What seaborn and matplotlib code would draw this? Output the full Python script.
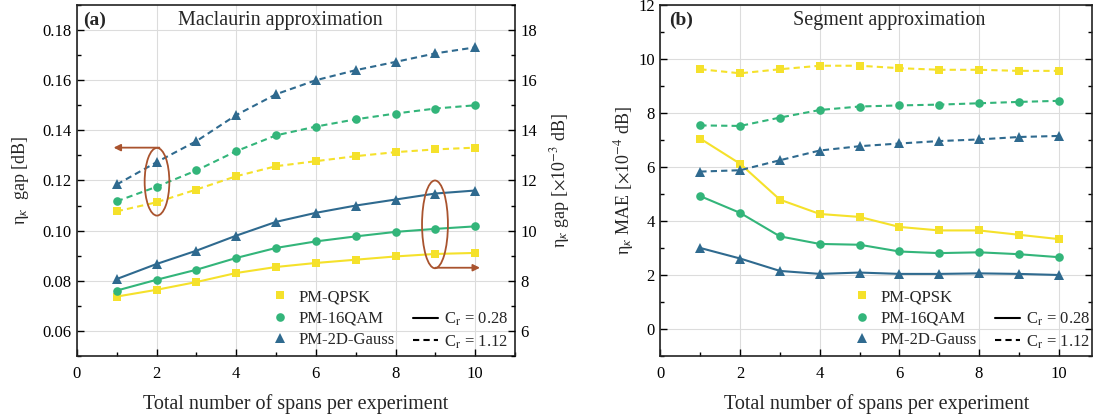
import numpy as np
import pandas as pd
import matplotlib
matplotlib.use("Agg")
import matplotlib.pyplot as plt
from matplotlib.lines import Line2D
from matplotlib.patches import Ellipse
from matplotlib.ticker import MultipleLocator
import seaborn as sns

# ---------------- data ----------------
spans = [1, 2, 3, 4, 5, 6, 7, 8, 9, 10]
formats = ["PM-QPSK", "PM-16QAM", "PM-2D-Gauss"]
cr_labels = ["0.28", "1.12"]

# (a) Maclaurin approximation: eta_kappa gap [dB]
gap_qpsk_028 = [0.0737, 0.0764, 0.0795, 0.0831, 0.0855, 0.0871, 0.0884, 0.0897, 0.0907, 0.0911]
gap_qam_028 = [0.0761, 0.0804, 0.0844, 0.0891, 0.0931, 0.0957, 0.0977, 0.0995, 0.1007, 0.1017]
gap_gauss_028 = [0.0807, 0.0867, 0.0920, 0.0980, 0.1035, 0.1071, 0.1100, 0.1124, 0.1148, 0.1160]
gap_qpsk_112 = [0.1077, 0.1113, 0.1164, 0.1217, 0.1257, 0.1277, 0.1297, 0.1313, 0.1324, 0.1331]
gap_qam_112 = [0.1117, 0.1175, 0.1240, 0.1317, 0.1380, 0.1415, 0.1444, 0.1467, 0.1487, 0.1500]
gap_gauss_112 = [0.1184, 0.1273, 0.1357, 0.1461, 0.1544, 0.1600, 0.1640, 0.1673, 0.1707, 0.1731]

# (b) Segment approximation: eta_kappa MAE [x1e-4 dB]
mae_qpsk_028 = [7.05, 6.12, 4.79, 4.26, 4.15, 3.78, 3.65, 3.65, 3.49, 3.33]
mae_qam_028 = [4.92, 4.30, 3.43, 3.15, 3.12, 2.87, 2.81, 2.84, 2.77, 2.66]
mae_gauss_028 = [3.00, 2.61, 2.15, 2.04, 2.09, 2.04, 2.04, 2.06, 2.04, 2.00]
mae_qpsk_112 = [9.62, 9.47, 9.62, 9.75, 9.75, 9.66, 9.60, 9.60, 9.56, 9.56]
mae_qam_112 = [7.54, 7.52, 7.83, 8.11, 8.24, 8.28, 8.31, 8.36, 8.41, 8.45]
mae_gauss_112 = [5.83, 5.88, 6.25, 6.61, 6.77, 6.87, 6.96, 7.02, 7.11, 7.15]

# ---------------- styles ----------------
colors = {"PM-QPSK": "#F5E12B", "PM-16QAM": "#33B57A", "PM-2D-Gauss": "#2F6A8F"}
markers = {"PM-QPSK": "s", "PM-16QAM": "o", "PM-2D-Gauss": "^"}
msizes = {"PM-QPSK": 5.6, "PM-16QAM": 6.2, "PM-2D-Gauss": 6.8}
lstyles = {"0.28": "-", "1.12": (0, (3, 2))}
brown = "#A9532E"


def long_df(series):
    rows = []
    for (fmt, cr), vals in series.items():
        for s, v in zip(spans, vals):
            rows.append({"span": s, "value": v, "format": fmt, "cr": cr})
    return pd.DataFrame(rows)


df_a = long_df({
    ("PM-QPSK", "0.28"): gap_qpsk_028, ("PM-16QAM", "0.28"): gap_qam_028,
    ("PM-2D-Gauss", "0.28"): gap_gauss_028, ("PM-QPSK", "1.12"): gap_qpsk_112,
    ("PM-16QAM", "1.12"): gap_qam_112, ("PM-2D-Gauss", "1.12"): gap_gauss_112,
})
df_b = long_df({
    ("PM-QPSK", "0.28"): mae_qpsk_028, ("PM-16QAM", "0.28"): mae_qam_028,
    ("PM-2D-Gauss", "0.28"): mae_gauss_028, ("PM-QPSK", "1.12"): mae_qpsk_112,
    ("PM-16QAM", "1.12"): mae_qam_112, ("PM-2D-Gauss", "1.12"): mae_gauss_112,
})

sns.set_theme(style="white")
plt.rcParams["font.family"] = ["Liberation Serif", "DejaVu Serif"]
plt.rcParams["mathtext.fontset"] = "stix"
plt.rcParams["font.size"] = 12

fig = plt.figure(figsize=(10.93, 4.19), dpi=100)
ax_a = fig.add_axes([0.0704, 0.1504, 0.4008, 0.8377])
ax_b = fig.add_axes([0.6043, 0.1504, 0.3948, 0.8377])


def draw(ax, df):
    for cr in cr_labels:
        for fmt in formats:
            sub = df[(df["format"] == fmt) & (df["cr"] == cr)]
            sns.lineplot(data=sub, x="span", y="value", ax=ax, color=colors[fmt],
                         marker=markers[fmt], markersize=msizes[fmt],
                         markeredgewidth=0, linewidth=1.5, linestyle=lstyles[cr],
                         legend=False, zorder=3)


def style_axes(ax, right_ticks):
    ax.grid(True, which="major", color="#DCDCDC", linewidth=0.8, zorder=0)
    ax.set_axisbelow(True)
    for sp in ax.spines.values():
        sp.set_color("#222222")
        sp.set_linewidth(1.2)
        sp.set_visible(True)
    ax.xaxis.set_major_locator(MultipleLocator(2))
    ax.xaxis.set_minor_locator(MultipleLocator(1))
    ax.tick_params(axis="both", which="both", direction="in", colors="black",
                   labelsize=12, pad=4, bottom=True, left=True, top=False,
                   right=right_ticks)
    ax.tick_params(axis="x", which="both", pad=7)
    ax.tick_params(which="major", length=5, width=1.0)
    ax.tick_params(which="minor", length=3, width=1.0)
    ax.set_xlabel("Total number of spans per experiment", fontsize=14.5, labelpad=9)


def add_legend(ax, bbox):
    h = [Line2D([], [], ls="none", marker=markers[f], color=colors[f],
                markersize=msizes[f], markeredgewidth=0) for f in formats]
    blank = Line2D([], [], ls="none", marker=None)
    h += [blank,
          Line2D([], [], color="black", lw=1.5, ls="-"),
          Line2D([], [], color="black", lw=1.5, ls=(0, (3, 2)))]
    labels = formats + ["", r"C$_\mathrm{r}$ = 0.28", r"C$_\mathrm{r}$ = 1.12"]
    ax.legend(h, labels, ncol=2, loc="lower right", bbox_to_anchor=bbox,
              frameon=False, fontsize=12, handlelength=1.5, handletextpad=0.35,
              columnspacing=1.1, labelspacing=0.32, borderaxespad=0, borderpad=0)


# ---------------- panel (a) ----------------
draw(ax_a, df_a)
style_axes(ax_a, right_ticks=False)
ax_a.set_xlim(0, 11)
ax_a.set_ylim(0.05, 0.19)
ax_a.yaxis.set_major_locator(MultipleLocator(0.02))
ax_a.yaxis.set_minor_locator(MultipleLocator(0.01))
ax_a.yaxis.set_major_formatter(matplotlib.ticker.FormatStrFormatter("%.2f"))
ax_a.set_ylabel(r"η$_\kappa$  gap [dB]", fontsize=13, labelpad=8)

ax_a2 = ax_a.twinx()
ax_a2.set_ylim(5, 19)
ax_a2.yaxis.set_major_locator(MultipleLocator(2))
ax_a2.yaxis.set_minor_locator(MultipleLocator(1))
ax_a2.set_yticks([6, 8, 10, 12, 14, 16, 18])
ax_a2.tick_params(axis="y", which="both", direction="in", labelsize=12, pad=4,
                  colors="black", right=True, left=False)
ax_a2.tick_params(which="major", length=5, width=1.0)
ax_a2.tick_params(which="minor", length=3, width=1.0)
ax_a2.grid(False)
for sp in ax_a2.spines.values():
    sp.set_visible(False)
ax_a2.set_ylabel(r"η$_\kappa$ gap [$\times$10$^{-3}$ dB]", fontsize=13, labelpad=8)

ax_a.text(0.015, 0.957, "(a)", transform=ax_a.transAxes, fontsize=14,
          fontweight="bold", va="center", ha="left")
ax_a.text(0.465, 0.957, "Maclaurin approximation", transform=ax_a.transAxes,
          fontsize=14.5, va="center", ha="center")

ax_a.add_patch(Ellipse((2.01, 0.1195), 0.62, 0.027, fill=False, edgecolor=brown,
                       lw=1.3, zorder=4))
ax_a.add_patch(Ellipse((8.99, 0.1025), 0.65, 0.035, fill=False, edgecolor=brown,
                       lw=1.3, zorder=4))
ax_a.annotate("", xy=(0.92, 0.1331), xytext=(2.07, 0.1331),
              arrowprops=dict(arrowstyle="-|>", color=brown, lw=1.3,
                              mutation_scale=10, shrinkA=0, shrinkB=0), zorder=4)
ax_a.annotate("", xy=(10.12, 0.0852), xytext=(9.0, 0.0852),
              arrowprops=dict(arrowstyle="-|>", color=brown, lw=1.3,
                              mutation_scale=10, shrinkA=0, shrinkB=0), zorder=4)

add_legend(ax_a, (0.985, 0.015))

# ---------------- panel (b) ----------------
draw(ax_b, df_b)
style_axes(ax_b, right_ticks=True)
ax_b.set_xlim(0, 10.84)
ax_b.set_ylim(-1, 12)
ax_b.yaxis.set_major_locator(MultipleLocator(2))
ax_b.yaxis.set_minor_locator(MultipleLocator(1))
ax_b.tick_params(axis="y", which="both", labelright=False)
ax_b.set_ylabel(r"η$_\kappa$ MAE [$\times$10$^{-4}$ dB]", fontsize=13, labelpad=2)

ax_b.text(0.02, 0.957, "(b)", transform=ax_b.transAxes, fontsize=14,
          fontweight="bold", va="center", ha="left")
ax_b.text(0.53, 0.957, "Segment approximation", transform=ax_b.transAxes,
          fontsize=14.5, va="center", ha="center")

add_legend(ax_b, (0.995, 0.015))

fig.savefig("out.png", dpi=100)
